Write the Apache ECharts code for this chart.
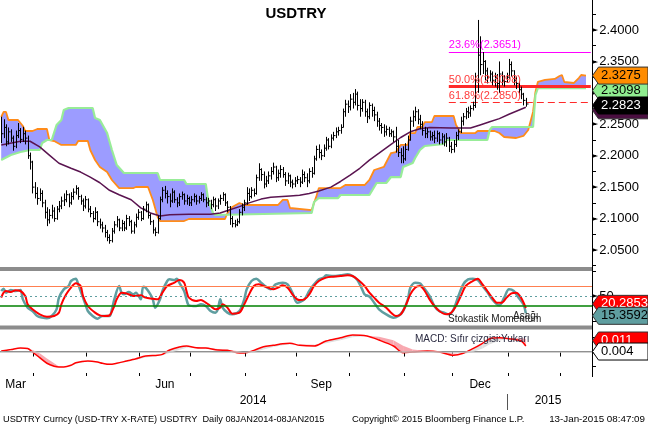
<!DOCTYPE html>
<html><head><meta charset="utf-8">
<script src="https://cdn.jsdelivr.net/npm/echarts@6/dist/echarts.min.js"></script>
<style>html,body{margin:0;padding:0;background:#fff}#c{width:648px;height:426px}</style>
</head><body><div id="c"></div>
<script>
// ---------- DATA ----------
const priceClose = [
2.235,2.245,2.222,2.238,2.228,2.215,2.232,2.240,2.226,2.235,
2.228,2.200,2.190,2.150,2.140,2.132,2.140,2.125,2.110,2.098,
2.105,2.112,2.100,2.115,2.120,2.128,2.130,2.138,2.125,2.135,
2.142,2.148,2.135,2.128,2.120,2.130,2.115,2.108,2.100,2.110,
2.095,2.090,2.085,2.078,2.070,2.065,2.080,2.090,2.098,2.085,
2.092,2.085,2.100,2.095,2.080,2.090,2.102,2.110,2.100,2.115,
2.122,2.105,2.095,2.082,2.078,2.100,2.130,2.145,2.140,2.135,
2.128,2.142,2.130,2.125,2.135,2.138,2.128,2.132,2.125,2.130,
2.135,2.128,2.132,2.138,2.130,2.125,2.128,2.122,2.130,2.120,
2.128,2.132,2.138,2.125,2.118,2.100,2.092,2.090,2.095,2.110,
2.118,2.125,2.140,2.135,2.145,2.140,2.165,2.178,2.170,2.155,
2.160,2.168,2.175,2.182,2.165,2.172,2.178,2.170,2.160,2.168,
2.158,2.155,2.160,2.162,2.158,2.170,2.165,2.160,2.175,2.172,
2.195,2.210,2.205,2.200,2.212,2.225,2.215,2.228,2.232,2.238,
2.240,2.245,2.270,2.282,2.278,2.290,2.285,2.298,2.280,2.275,
2.285,2.270,2.262,2.280,2.272,2.265,2.255,2.248,2.245,2.238,
2.242,2.235,2.238,2.230,2.215,2.205,2.200,2.195,2.210,2.225,
2.255,2.262,2.270,2.258,2.250,2.240,2.235,2.238,2.230,2.232,
2.228,2.235,2.225,2.230,2.222,2.228,2.215,2.210,2.218,2.232,
2.238,2.255,2.262,2.270,2.268,2.275,2.280,2.320,2.360,2.345,
2.350,2.335,2.325,2.330,2.320,2.325,2.315,2.330,2.320,2.318,
2.325,2.345,2.335,2.320,2.315,2.305,2.298,2.288,2.2823];
const priceHigh = [
2.262,2.258,2.250,2.245,2.242,2.232,2.240,2.252,2.244,2.246,
2.240,2.232,2.205,2.192,2.158,2.150,2.148,2.145,2.130,2.118,
2.115,2.122,2.118,2.120,2.128,2.135,2.140,2.145,2.140,2.142,
2.148,2.153,2.150,2.138,2.132,2.136,2.132,2.120,2.112,2.118,
2.112,2.100,2.095,2.090,2.082,2.075,2.085,2.096,2.104,2.100,
2.098,2.096,2.106,2.104,2.098,2.095,2.108,2.115,2.112,2.120,
2.127,2.124,2.108,2.098,2.086,2.105,2.135,2.150,2.152,2.145,
2.140,2.148,2.145,2.134,2.140,2.143,2.140,2.138,2.135,2.136,
2.140,2.138,2.136,2.142,2.140,2.134,2.133,2.130,2.135,2.133,
2.132,2.138,2.142,2.140,2.128,2.120,2.104,2.098,2.100,2.115,
2.124,2.130,2.150,2.148,2.150,2.148,2.170,2.188,2.180,2.175,
2.168,2.175,2.182,2.189,2.184,2.178,2.185,2.182,2.174,2.173,
2.170,2.162,2.166,2.168,2.166,2.178,2.175,2.172,2.180,2.182,
2.200,2.216,2.218,2.210,2.218,2.230,2.228,2.234,2.238,2.245,
2.246,2.250,2.275,2.289,2.288,2.298,2.300,2.306,2.302,2.290,
2.290,2.289,2.275,2.285,2.283,2.278,2.270,2.260,2.252,2.250,
2.248,2.246,2.242,2.240,2.246,2.225,2.212,2.215,2.220,2.232,
2.262,2.272,2.278,2.274,2.265,2.255,2.246,2.244,2.240,2.238,
2.240,2.240,2.238,2.236,2.234,2.236,2.230,2.222,2.225,2.238,
2.242,2.262,2.268,2.276,2.278,2.280,2.286,2.332,2.416,2.390,
2.365,2.352,2.340,2.336,2.334,2.332,2.330,2.350,2.334,2.328,
2.332,2.354,2.350,2.336,2.326,2.318,2.310,2.300,2.292];
const priceLow = [
2.220,2.228,2.215,2.218,2.222,2.208,2.212,2.228,2.220,2.222,
2.218,2.195,2.178,2.140,2.132,2.122,2.128,2.118,2.100,2.088,
2.092,2.100,2.095,2.098,2.110,2.115,2.120,2.126,2.118,2.122,
2.130,2.138,2.130,2.122,2.112,2.116,2.110,2.102,2.094,2.098,
2.088,2.084,2.078,2.070,2.064,2.060,2.062,2.076,2.086,2.080,
2.080,2.080,2.082,2.088,2.076,2.076,2.086,2.098,2.096,2.098,
2.110,2.100,2.090,2.076,2.072,2.076,2.098,2.126,2.132,2.124,
2.118,2.125,2.125,2.118,2.120,2.130,2.122,2.122,2.120,2.120,
2.126,2.122,2.124,2.128,2.126,2.118,2.120,2.115,2.118,2.112,
2.115,2.122,2.128,2.120,2.110,2.090,2.086,2.086,2.088,2.092,
2.105,2.112,2.122,2.128,2.132,2.135,2.138,2.160,2.160,2.148,
2.150,2.155,2.162,2.170,2.158,2.160,2.165,2.165,2.152,2.155,
2.150,2.148,2.150,2.155,2.150,2.155,2.158,2.150,2.156,2.165,
2.170,2.192,2.196,2.193,2.198,2.208,2.210,2.212,2.224,2.228,
2.232,2.235,2.245,2.262,2.268,2.272,2.275,2.280,2.272,2.262,
2.270,2.262,2.252,2.258,2.262,2.255,2.246,2.240,2.235,2.230,
2.232,2.230,2.230,2.222,2.205,2.198,2.188,2.188,2.192,2.208,
2.224,2.246,2.255,2.250,2.242,2.232,2.228,2.228,2.224,2.224,
2.220,2.222,2.218,2.218,2.215,2.214,2.206,2.204,2.205,2.214,
2.225,2.236,2.248,2.258,2.260,2.262,2.272,2.276,2.300,2.328,
2.330,2.320,2.315,2.318,2.312,2.310,2.305,2.300,2.312,2.310,
2.316,2.322,2.326,2.312,2.306,2.296,2.290,2.280,2.278];

const maLine = [[0,2.217],[8,2.223],[12,2.223],[16,2.214],[20,2.201],[24,2.188],[29,2.180],[33,2.174],[37,2.166],[41,2.157],[45,2.145],[49,2.138],[54,2.130],[58,2.117],[62,2.109],[66,2.104],[70,2.106],[78,2.107],[87,2.107],[91,2.109],[95,2.114],[99,2.119],[103,2.125],[108,2.131],[112,2.134],[120,2.136],[124,2.137],[128,2.140],[132,2.144],[137,2.150],[141,2.159],[145,2.169],[149,2.180],[153,2.193],[157,2.204],[162,2.218],[166,2.229],[170,2.238],[174,2.243],[178,2.245],[187,2.244],[195,2.244],[199,2.249],[203,2.254],[207,2.259],[211,2.266],[216,2.274],[218,2.277]];

const spanA = [[0,2.2616],[1,2.2696],[2,2.2696],[3,2.2568],[7,2.2568],[9,2.2473],[10,2.2393],[13,2.2393],[15,2.2425],[19,2.2425],[20,2.225],[22,2.2234],[25,2.2171],[31,2.2171],[32,2.2234],[36,2.2234],[37,2.2091],[39,2.1932],[41,2.182],[44,2.1741],[46,2.1614],[49,2.1486],[55,2.1486],[56,2.1502],[61,2.1502],[63,2.1296],[65,2.1025],[66,2.0961],[76,2.0961],[78,2.0993],[93,2.0993],[94,2.1089],[96,2.1184],[99,2.1248],[101,2.1216],[115,2.1216],[117,2.1296],[119,2.1296],[120,2.1168],[129,2.1136],[131,2.1359],[132,2.1486],[141,2.1486],[143,2.1534],[151,2.1534],[153,2.1614],[155,2.1773],[159,2.1821],[162,2.2043],[164,2.2059],[166,2.2171],[169,2.2171],[170,2.2361],[172,2.2361],[173,2.2457],[175,2.2457],[176,2.2536],[179,2.2536],[180,2.2632],[188,2.2632],[189,2.2489],[191,2.2361],[197,2.2361],[198,2.2393],[205,2.2393],[207,2.2361],[209,2.2298],[214,2.2282],[217,2.2314],[219,2.2409],[221,2.2696],[222,2.3014],[223,2.3173],[226,2.3205],[230,2.3221],[232,2.3268],[233,2.3284],[234,2.3173],[238,2.3157],[240,2.3236],[241,2.3284],[243,2.3275]];
const spanB = [[0,2.1932],[4,2.2011],[8,2.2059],[12,2.2091],[16,2.2091],[17,2.2202],[19,2.225],[21,2.225],[23,2.2489],[25,2.2568],[26,2.2727],[28,2.2759],[38,2.2759],[39,2.26],[41,2.2568],[44,2.2361],[46,2.2091],[48,2.1852],[51,2.1725],[65,2.1725],[66,2.1614],[76,2.1614],[77,2.155],[85,2.155],[86,2.1296],[88,2.1089],[89,2.1057],[129,2.1089],[130,2.1264],[132,2.1327],[140,2.1327],[141,2.1375],[153,2.1375],[155,2.1502],[156,2.1566],[160,2.1566],[162,2.1661],[166,2.1661],[167,2.182],[171,2.1884],[172,2.1964],[174,2.2091],[176,2.2155],[184,2.2186],[185,2.225],[202,2.225],[203,2.2409],[204,2.2457],[221,2.2457],[222,2.2966],[223,2.3075],[243,2.3075]];

const fibNames = ['23.6%(2.3651)','50.0%(2.3098)','61.8%(2.2850)'];
const fibValues = [2.3651, 2.3098, 2.2850];
const fibStartIndex = 186;

const stochK = [[0,60],[1,64.7],[2,56.7],[4,62],[6,60],[8,62],[9,43.3],[11,26.7],[13,20],[15,10],[17,6.7],[19,5.3],[21,10],[23,23.3],[24,46.7],[26,63.3],[28,70],[29,80],[31,84.7],[32,73.3],[33,60],[35,33.3],[36,20],[38,10],[40,4.7],[42,10],[45,10],[46,23.3],[47,43.3],[49,70],[50,56.7],[51,53.3],[53,58],[55,53.3],[56,56.7],[58,43.3],[59,68.7],[60,66.7],[62,53.3],[63,43.3],[64,26.7],[66,43.3],[67,60],[69,80],[70,83.3],[72,82],[73,84.7],[74,76.7],[76,60],[77,43.3],[78,31.3],[81,30],[83,33.3],[85,30],[87,20],[89,16.7],[90,23.3],[91,43.3],[92,26.7],[94,16.7],[96,13.3],[99,20],[101,43.3],[102,63.3],[104,80],[106,84.7],[108,76.7],[110,68.7],[112,63.3],[114,73.3],[117,76.7],[119,73.3],[121,56.7],[123,36.7],[126,43.3],[128,60],[130,73.3],[132,83.3],[134,86.7],[135,91.3],[138,90],[141,91.3],[144,93.3],[146,90],[148,82],[150,63.3],[151,53.3],[153,48.7],[155,36.7],[157,23.3],[160,13.3],[163,6.7],[165,10],[167,20],[169,43.3],[170,66.7],[172,76.7],[174,75.3],[175,70],[178,50],[180,30],[182,20],[184,16.7],[186,13.3],[188,23.3],[190,50],[192,73.3],[194,83.3],[196,84.7],[198,82],[200,70],[202,58],[204,43.3],[206,33.3],[207,31.3],[209,46.7],[211,63.3],[213,60],[215,46.7],[217,33.3],[218,15.36]];
const stochD = [[0,46.7],[1,56.7],[2,60],[4,58],[6,61.3],[8,60],[10,50],[11,33.3],[13,23.3],[16,13.3],[19,8.7],[22,10],[24,16.7],[25,33.3],[27,53.3],[29,66.7],[31,75.3],[33,70],[34,50],[36,30],[39,16.7],[41,11.3],[43,10],[45,11.3],[47,30],[48,43.3],[50,56.7],[52,55.3],[55,50],[58,51.3],[60,46.7],[63,44.7],[65,43.3],[67,56.7],[69,70],[72,76.7],[74,82],[76,76.7],[77,60],[78,46.7],[81,40],[83,42],[85,36.7],[87,30],[89,23.3],[91,26.7],[92,33.3],[94,26.7],[96,14.7],[99,16.7],[101,33.3],[103,53.3],[105,70],[107,73.3],[109,70],[111,66.7],[113,63.3],[115,66.7],[117,71.3],[119,66.7],[121,53.3],[123,43.3],[124,42],[126,43.3],[128,53.3],[130,70],[132,80],[135,86.7],[138,88.7],[141,90],[144,91.3],[146,90],[148,83.3],[151,70],[153,56.7],[155,46.7],[157,36.7],[160,26.7],[162,16.7],[164,10],[166,13.3],[168,30],[170,53.3],[172,66.7],[174,70],[176,60],[178,43.3],[180,30],[182,20],[185,13.3],[187,16.7],[189,30],[191,50],[193,70],[196,80],[198,84.7],[200,73.3],[202,60],[204,46.7],[206,36.7],[208,36.7],[210,46.7],[212,55.3],[214,56.7],[216,46.7],[218,26]];
const stochLevels = [70, 50, 30];

const macdIdx = [0,4,8,11,13,16,19,22,24,26,29,31,36,40,42,45,48,52,56,60,65,67,70,74,77,81,85,90,94,98,101,105,109,113,117,120,124,130,135,141,146,152,157,163,167,171,177,182,188,192,196,200,203,207,211,216,218];
const macdVal = [0.0005,0.002,0.0036,0.003,-0.0005,-0.0063,-0.012,-0.015,-0.0158,-0.0158,-0.0141,-0.0114,-0.0097,-0.0107,-0.012,-0.0131,-0.012,-0.0097,-0.0073,-0.0046,-0.0039,-0.0029,0.0015,0.0046,0.0056,0.0039,0.0035,0.0015,0.0012,-0.0012,-0.0015,0.0012,0.0049,0.0063,0.008,0.0084,0.0063,0.0056,0.0107,0.0141,0.0169,0.0158,0.0117,0.0056,-0.0012,-0.0005,0.0005,-0.0005,-0.0039,-0.0018,0.0029,0.0084,0.0131,0.0141,0.0131,0.0107,0.0056];
const macdSig = [0.0005,0.002,0.0034,0.0036,0.0015,-0.0018,-0.007,-0.012,-0.0152,-0.0158,-0.0148,-0.0125,-0.0103,-0.0105,-0.0115,-0.0125,-0.0125,-0.0108,-0.0085,-0.0062,-0.0045,-0.0038,-0.0015,0.0015,0.0038,0.0045,0.0040,0.0025,0.0015,0.0005,-0.0008,-0.0005,0.002,0.0045,0.0065,0.0075,0.0072,0.0070,0.0085,0.0115,0.0145,0.0158,0.0150,0.0115,0.006,0.002,0.0005,0.0,-0.002,-0.0025,-0.0005,0.003,0.0075,0.011,0.0135,0.0135,0.0130];

const priceTicks = [2.05,2.10,2.15,2.20,2.25,2.30,2.35,2.40];
const priceMinorTicks = [2.025,2.05,2.075,2.10,2.125,2.15,2.175,2.20,2.225,2.25,2.275,2.30,2.325,2.35,2.375,2.40,2.425];
const tagValues = {spanA:'2.3275', spanB:'2.3098', last:'2.2823', stochD:'20.2853', stochK:'15.3592', macd:'0.004'};

// ---------- CATEGORIES (weekdays) ----------
const categories = [];
(function(){ let t = Date.UTC(2014,2,12); while(categories.length<246){ const d=new Date(t); const w=d.getUTCDay(); if(w>0&&w<6) categories.push(d.toISOString().slice(0,10)); t+=86400000; } })();
const monthNames = {'03':'Mar','06':'Jun','09':'Sep','12':'Dec'};
const monthIdx = {};
categories.forEach((c,i)=>{const k=c.slice(0,7); (monthIdx[k]=monthIdx[k]||[]).push(i);});
const labelAt = {};
Object.keys(monthIdx).forEach(k=>{const m=k.slice(5,7); if(monthNames[m]){const a=monthIdx[k]; labelAt[a[Math.floor((a.length-1)/2)]]=monthNames[m];}});
const isMonthStart = i => i>0 && categories[i].slice(5,7)!==categories[i-1].slice(5,7);

const FONT = 'Liberation Sans';
const chart = echarts.init(document.getElementById('c'));

const hiddenX = gi => ({type:'category', gridIndex:gi, data:categories, boundaryGap:true, show:false});

const option = {
  animation:false,
  backgroundColor:'#fff',
  grid:[
    {left:0, top:0, width:592, height:268},
    {left:0, top:271, width:592, height:55},
    {left:0, top:329, width:592, height:47}
  ],
  xAxis:[
    hiddenX(0), hiddenX(1),
    {type:'category', gridIndex:2, data:categories, boundaryGap:true, position:'bottom',
     axisLine:{show:true, lineStyle:{color:'#000', width:1}},
     axisTick:{show:true, length:5, interval:(i)=>isMonthStart(i), lineStyle:{color:'#000'}},
     axisLabel:{show:true, interval:(i)=>labelAt[i]!==undefined, formatter:(v,i)=>labelAt[i]||'', margin:3, fontFamily:FONT, fontSize:12, color:'#000'}},
    {type:'category', gridIndex:2, data:categories, boundaryGap:true, position:'bottom',
     axisLine:{show:false}, axisLabel:{show:false},
     axisTick:{show:true, inside:true, length:3, interval:(i)=>isMonthStart(i), lineStyle:{color:'#000'}}}
  ],
  yAxis:[
    {type:'value', gridIndex:0, position:'right', min:2.02138, max:2.44773, splitLine:{show:false},
     axisLine:{show:false},
     axisTick:{show:true, length:4, customValues:priceMinorTicks, lineStyle:{color:'#000'}},
     axisLabel:{show:true, customValues:priceTicks, margin:0, formatter:v=>'{a|►}{b|'+v.toFixed(4)+'}',
       rich:{a:{fontSize:8, fontFamily:'DejaVu Sans', color:'#000'}, b:{fontSize:13, fontFamily:FONT, color:'#000', padding:[0,0,0,1]}}}},
    {type:'value', gridIndex:1, position:'right', min:-10, max:100, splitLine:{show:false},
     axisLine:{show:false},
     axisTick:{show:true, length:4, customValues:[0,100], lineStyle:{color:'#000'}},
     axisLabel:{show:true, customValues:[50], margin:0, formatter:v=>'{a|►}{b|'+v+'}',
       rich:{a:{fontSize:8, fontFamily:'DejaVu Sans', color:'#000'}, b:{fontSize:13, fontFamily:FONT, color:'#000', padding:[0,0,0,1]}}}},
    {type:'value', gridIndex:2, position:'right', min:-0.025, max:0.023, splitLine:{show:false},
     axisLine:{show:false},
     axisTick:{show:true, length:4, customValues:[-0.015,0.015], lineStyle:{color:'#000'}},
     axisLabel:{show:true, customValues:[0], margin:0, formatter:()=>'{a|►}',
       rich:{a:{fontSize:8, fontFamily:'DejaVu Sans', color:'#000'}}}}
  ],
  series:[
    // cloud fill
    {type:'custom', xAxisIndex:0, yAxisIndex:0, z:1, clip:true, data:[[0,2.2]], silent:true,
     renderItem:(params, api)=>{
       const pts = spanA.map(p=>api.coord(p)).concat(spanB.slice().reverse().map(p=>api.coord(p)));
       return {type:'polygon', shape:{points:pts}, style:{fill:'#9c9cff'}};
     }},
    {type:'line', xAxisIndex:0, yAxisIndex:0, z:2, data:spanA, showSymbol:false, lineStyle:{color:'#ff8c1a', width:1.8}},
    {type:'line', xAxisIndex:0, yAxisIndex:0, z:2, data:spanB, showSymbol:false, lineStyle:{color:'#98ec98', width:2.2}},
    // fib lines
    {type:'line', xAxisIndex:0, yAxisIndex:0, z:3, data:[], showSymbol:false,
     markLine:{silent:true, symbol:'none',
       data: fibValues.map((v,k)=>[
         {coord:[fibStartIndex, v], lineStyle:{color: k===0?'#ff00ff':'#ff2a2a', width: k===1?3:1, type: k===2?[7,4]:'solid'},
          label:{show:true, position:'insideStartTop', distance:[0,1], formatter:fibNames[k], color:k===0?'#ff00ff':'#ff3a3a', fontFamily:FONT, fontSize:11}},
         {coord:[245, v]}
       ])}},
    {type:'line', xAxisIndex:0, yAxisIndex:0, z:4, data:maLine, showSymbol:false, lineStyle:{color:'#5a1450', width:1.5}},
    // price bars
    {type:'custom', xAxisIndex:0, yAxisIndex:0, z:5, clip:true, silent:true,
     data: priceClose.map((c,i)=>[i, priceHigh[i], priceLow[i], c]),
     encode:{x:0, y:[1,2,3]},
     renderItem:(params, api)=>{
       const h = api.coord([api.value(0), api.value(1)]);
       const l = api.coord([api.value(0), api.value(2)]);
       const c = api.coord([api.value(0), api.value(3)]);
       const x = Math.round(h[0]) + 0.5;
       return {type:'group', children:[
         {type:'line', shape:{x1:x, y1:h[1], x2:x, y2:l[1]}, style:{stroke:'#000', lineWidth:1}},
         {type:'line', shape:{x1:x, y1:c[1], x2:x+2, y2:c[1]}, style:{stroke:'#000', lineWidth:1}}
       ]};
     }},
    // stochastic
    {type:'line', xAxisIndex:1, yAxisIndex:1, z:2, data:[], showSymbol:false,
     markLine:{silent:true, symbol:'none', label:{show:false},
       data:[{yAxis:stochLevels[0], lineStyle:{color:'#ff7f50', width:1, type:'solid'}},
             {yAxis:stochLevels[1], lineStyle:{color:'#5f9ea0', width:1, type:[2,3]}},
             {yAxis:stochLevels[2], lineStyle:{color:'#008000', width:1.5, type:'solid'}}]}},
    {type:'line', xAxisIndex:1, yAxisIndex:1, z:3, data:stochK, showSymbol:false, smooth:0.3, lineStyle:{color:'#5f9ea0', width:2.5}},
    {type:'line', xAxisIndex:1, yAxisIndex:1, z:4, data:stochD, showSymbol:false, smooth:0.3, lineStyle:{color:'#ff0000', width:2}},
    // MACD
    {type:'line', xAxisIndex:2, yAxisIndex:2, z:1, data:[], showSymbol:false,
     markLine:{silent:true, symbol:'none', label:{show:false}, data:[{yAxis:0, lineStyle:{color:'#c0c0c0', width:1.5, type:'solid'}}]}},
    {type:'custom', xAxisIndex:2, yAxisIndex:2, z:2, silent:true, clip:true,
     data: macdIdx.slice(0,-1).map((i,k)=>[i, macdVal[k], macdSig[k]]),
     encode:{x:0, y:[1,2]},
     renderItem:(params, api)=>{
       const k = params.dataIndex;
       const p1 = api.coord([macdIdx[k], macdVal[k]]), p2 = api.coord([macdIdx[k+1], macdVal[k+1]]);
       const s2 = api.coord([macdIdx[k+1], macdSig[k+1]]), s1 = api.coord([macdIdx[k], macdSig[k]]);
       const diff = (macdSig[k]+macdSig[k+1]) - (macdVal[k]+macdVal[k+1]);
       return {type:'polygon', shape:{points:[p1,p2,s2,s1]}, style:{fill: diff>0 ? '#f8a8b0' : '#e0e0e0'}};
     }},
    {type:'line', xAxisIndex:2, yAxisIndex:2, z:3, data:macdIdx.map((i,k)=>[i, macdVal[k]]), showSymbol:false, smooth:0.3, lineStyle:{color:'#ff0000', width:1.5}}
  ]
};
chart.setOption(option);

// ---------- annotations / tags ----------
const yP = (ax, v) => chart.convertToPixel({yAxisIndex:ax}, v);
let zc = 100;
function tag(yc, fill, txt, txtColor, stroke){
  const h=17, x0=592.5;
  return [
    {type:'polygon', z:zc++, shape:{points:[[x0,yc],[x0+6,yc-h/2],[648,yc-h/2],[648,yc+h/2],[x0+6,yc+h/2]]}, style:{fill:fill, stroke:stroke||'#333', lineWidth:1}},
    {type:'text', z:zc++, x:601, y:yc, style:{text:txt, fill:txtColor, font:'13px "'+FONT+'"', verticalAlign:'middle', textVerticalAlign:'middle'}}
  ];
}
const lastSpanA = spanA[spanA.length-1][1], lastSpanB = spanB[spanB.length-1][1];
const lastClose = priceClose[priceClose.length-1];
const lastMa = maLine[maLine.length-1][1];
const zeroY = yP(2, 0);
const g = [];
g.push({type:'rect', z:50, shape:{x:0, y:267, width:592, height:4}, style:{fill:'#8c8c8c'}});
g.push({type:'rect', z:50, shape:{x:0, y:325.5, width:592, height:4}, style:{fill:'#8c8c8c'}});
g.push({type:'line', z:51, shape:{x1:592.5, y1:0, x2:592.5, y2:377}, style:{stroke:'#000', lineWidth:1}});
g.push({type:'text', z:60, x:296, y:14, style:{text:'USDTRY', fill:'#000', font:'bold 15px "'+FONT+'"', align:'center', textAlign:'center', verticalAlign:'middle', textVerticalAlign:'middle'}});
g.push(...tag(yP(0,lastSpanB)+2.5, '#90ee90', tagValues.spanB, '#000'));
g.push(...tag(yP(0,lastSpanA), '#ff8c00', tagValues.spanA, '#000'));
g.push(...tag(yP(0,lastMa)+3, '#4a0f40', '', '#fff'));
g.push(...tag(yP(0,lastClose)+1.5, '#000', tagValues.last, '#fff', '#000'));
g.push(...tag(yP(1,20.29)-7, '#ff0000', tagValues.stochD, '#fff'));
g.push(...tag(yP(1,15.36)+2.5, '#5f9ea0', tagValues.stochK, '#000'));
g.push(...tag(zeroY-11, '#ff0000', '0.011', '#fff'));
g.push(...tag(zeroY, '#ffffff', tagValues.macd, '#000', '#000'));
const txt = (x,y,t,size,color,align)=>({type:'text', z:60, x:x, y:y, style:{text:t, fill:color||'#000', font:size+'px "'+FONT+'"', align:align||'left', textAlign:align||'left', verticalAlign:'middle', textVerticalAlign:'middle'}});
g.push(txt(448, 319, 'Stokastik Momentum', 10, '#222'));
g.push(txt(513, 316, 'Aşağı', 10, '#222'));
g.push(txt(415, 339, 'MACD: Sıfır çizgisi:Yukarı', 10, '#2a2a40'));
g.push(txt(253, 401, '2014', 12, '#000', 'center'));
g.push(txt(548, 401, '2015', 12, '#000', 'center'));
g.push({type:'line', z:60, shape:{x1:507.5, y1:394, x2:507.5, y2:410}, style:{stroke:'#555', lineWidth:1}});
g.push(txt(3, 419, 'USDTRY Curncy (USD-TRY X-RATE) USDTRY  Daily 08JAN2014-08JAN2015', 9.2, '#000'));
g.push(txt(352, 419, 'Copyright© 2015 Bloomberg Finance L.P.', 9.4, '#000'));
g.push(txt(645, 419, '13-Jan-2015 08:47:09', 9.8, '#000', 'right'));
chart.setOption({graphic:g});
</script>
</body></html>
